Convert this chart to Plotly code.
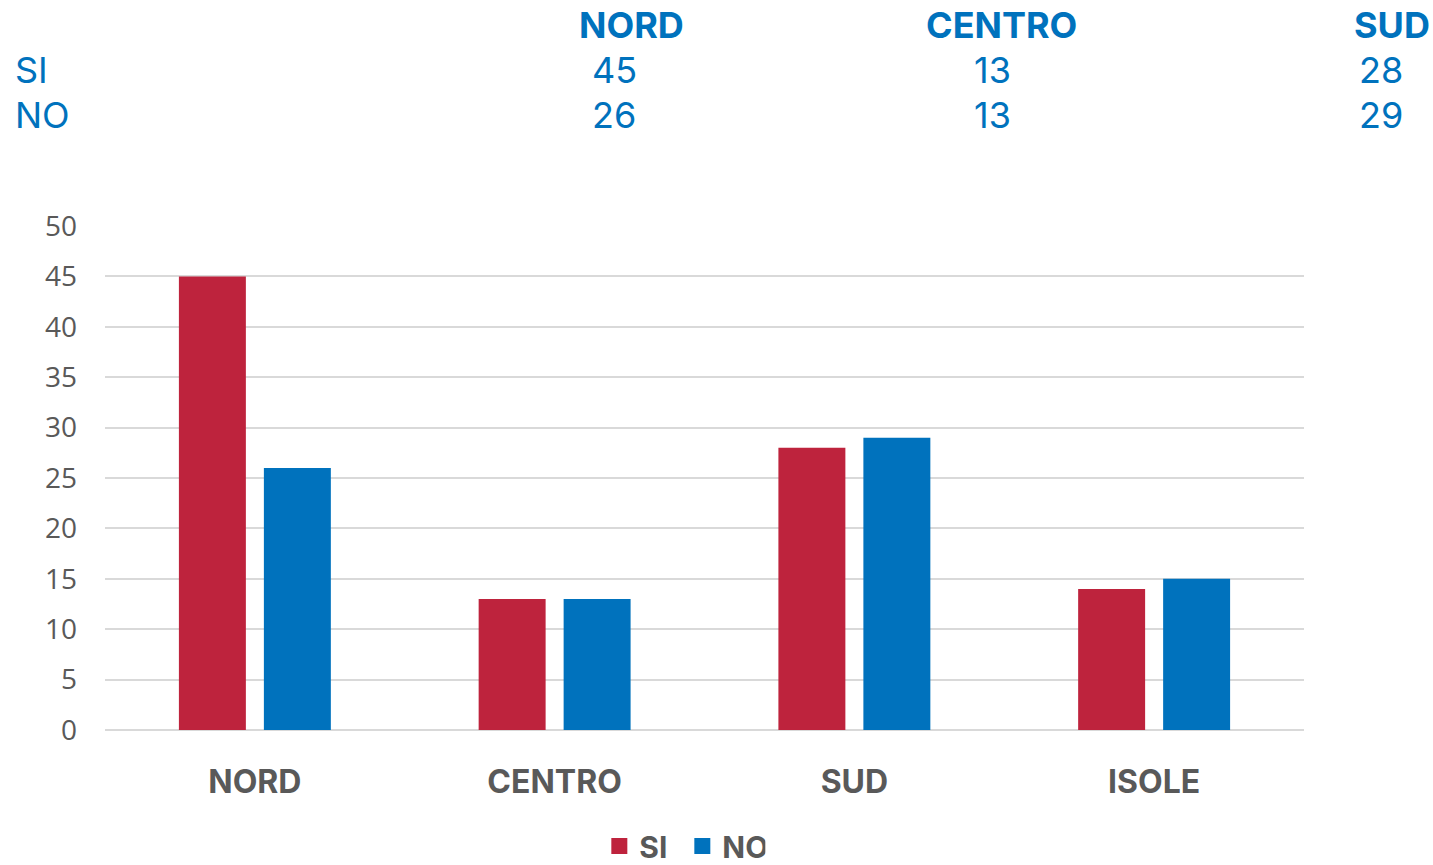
import plotly.graph_objects as go

categories = ["NORD", "CENTRO", "SUD", "ISOLE"]
si_values = [45, 13, 28, 14]
no_values = [26, 13, 29, 15]
series_names = ["SI", "NO"]
y_ticks = [0, 5, 10, 15, 20, 25, 30, 35, 40, 45, 50]

RED = "#BE233D"
BLUE = "#0072BD"
GRAY = "#595959"
FONT = "Inter"

W, H = 1433, 865
L, R, T, B = 105, 129, 226, 135
pw, ph = W - L - R, H - T - B

def px_x(x):
    return (x - L) / pw

def px_y(y):
    return (H - B - y) / ph

fig = go.Figure()
colors = [RED, BLUE]
for name, vals, col in zip(series_names, [si_values, no_values], colors):
    fig.add_trace(go.Bar(name=name, x=categories, y=vals, legendgroup=name, showlegend=False,
                         marker=dict(color=col, line=dict(width=0))))
for name, col in zip(series_names, colors):
    fig.add_trace(go.Scatter(name=name, x=[None], y=[None], mode="markers", legendgroup=name,
                             marker=dict(symbol="square", size=16, color=col)))

annotations = []
header_x = [631, 1001, 1392]
value_x = [614, 992, 1381]
tfont = dict(family=FONT, size=36, color=BLUE)
for i in range(3):
    annotations.append(dict(text=f"<b>{categories[i]}</b>", x=px_x(header_x[i]), y=px_y(25),
                            xref="paper", yref="paper", showarrow=False,
                            xanchor="center", yanchor="middle", font=tfont))
    annotations.append(dict(text=str(si_values[i]), x=px_x(value_x[i]), y=px_y(70),
                            xref="paper", yref="paper", showarrow=False,
                            xanchor="center", yanchor="middle", font=tfont))
    annotations.append(dict(text=str(no_values[i]), x=px_x(value_x[i]), y=px_y(115),
                            xref="paper", yref="paper", showarrow=False,
                            xanchor="center", yanchor="middle", font=tfont))
for name, yy in zip(series_names, [70, 115]):
    annotations.append(dict(text=name, x=px_x(13), y=px_y(yy),
                            xref="paper", yref="paper", showarrow=False,
                            xanchor="left", yanchor="middle", font=tfont))

fig.update_layout(
    width=W, height=H,
    margin=dict(l=L, r=R, t=T, b=B, pad=0, autoexpand=False),
    paper_bgcolor="white", plot_bgcolor="white",
    barmode="group", bargap=0.433, bargroupgap=0.212,
    showlegend=True,
    legend=dict(orientation="h", x=(690 / W), xanchor="center", yref="container",
                y=1 - 846 / H, yanchor="middle",
                font=dict(family=FONT, size=30, color=GRAY, weight="bold"),
                itemwidth=30, entrywidth=38, entrywidthmode="pixels", traceorder="normal"),
    annotations=annotations,
    xaxis=dict(showgrid=False, showline=False, ticks="",
               tickfont=dict(family=FONT, size=32, color=GRAY, weight="bold"),
               ticklabelstandoff=30),
    yaxis=dict(range=[0, 50], tickvals=y_ticks, showgrid=True, gridcolor="#D9D9D9",
               gridwidth=2, zeroline=True, zerolinecolor="#D9D9D9", zerolinewidth=2,
               showline=False, ticks="",
               tickfont=dict(family="Open Sans", size=28, color=GRAY),
               ticklabelstandoff=27),
)

fig.write_html("out.html", config={"displayModeBar": False},
               post_script="document.body.style.margin='0';document.body.style.overflow='hidden';")
